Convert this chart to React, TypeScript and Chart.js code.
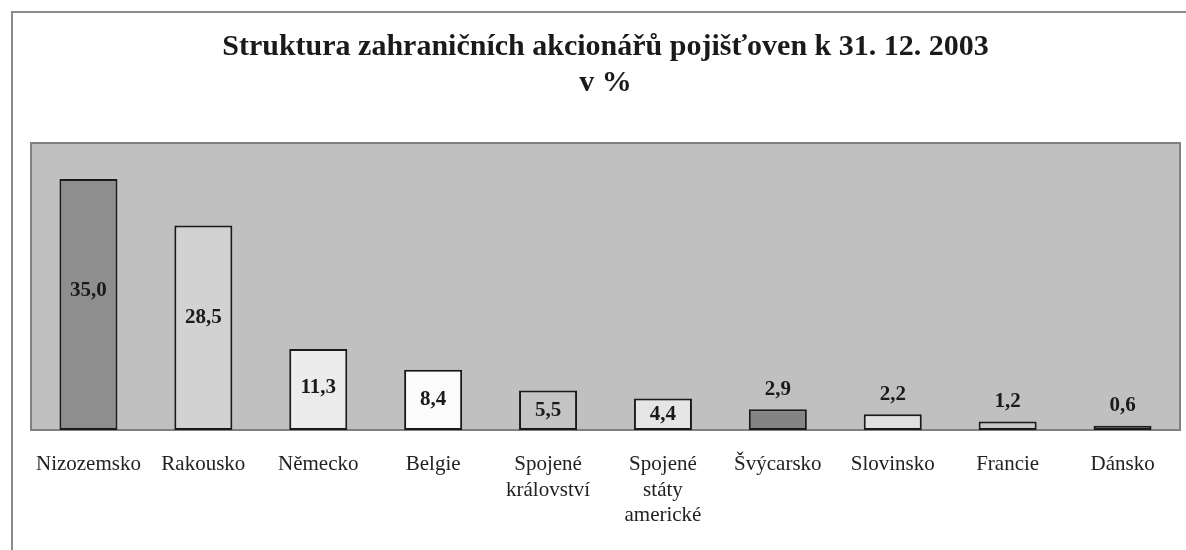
import React, { useEffect, useRef } from "react";
import { Chart, registerables } from "chart.js";

Chart.register(...registerables);

const categories: (string | string[])[] = [
  "Nizozemsko",
  "Rakousko",
  "Německo",
  "Belgie",
  ["Spojené", "království"],
  ["Spojené", "státy", "americké"],
  "Švýcarsko",
  "Slovinsko",
  "Francie",
  "Dánsko",
];
const values: number[] = [35.0, 28.5, 11.3, 8.4, 5.5, 4.4, 2.9, 2.2, 1.2, 0.6];
const barColors: string[] = [
  "#8e8e8e",
  "#d2d2d2",
  "#ececec",
  "#fbfbfb",
  "#c4c4c4",
  "#e6e6e6",
  "#848484",
  "#e0e0e0",
  "#c8c8c8",
  "#9c9c9c",
];
const titleLines: string[] = ["Struktura zahraničních akcionářů pojišťoven k 31. 12. 2003", "v %"];
const yMax = 40;

const SERIF = "'Liberation Serif', 'Times New Roman', serif";

const decorPlugin = {
  id: "decor",
  beforeDraw(chart: any) {
    const ctx = chart.ctx;
    ctx.save();
    ctx.fillStyle = "#ffffff";
    ctx.fillRect(0, 0, chart.width, chart.height);
    ctx.strokeStyle = "#8c8c8c";
    ctx.lineWidth = 2;
    ctx.beginPath();
    ctx.moveTo(12, chart.height);
    ctx.lineTo(12, 12);
    ctx.lineTo(chart.width, 12);
    ctx.stroke();
    ctx.restore();
  },
  beforeDatasetsDraw(chart: any) {
    const { ctx, chartArea } = chart;
    ctx.save();
    ctx.fillStyle = "#c0c0c0";
    ctx.fillRect(chartArea.left, chartArea.top, chartArea.right - chartArea.left, chartArea.bottom - chartArea.top);
    ctx.strokeStyle = "#808080";
    ctx.lineWidth = 2;
    ctx.strokeRect(chartArea.left, chartArea.top, chartArea.right - chartArea.left, chartArea.bottom - chartArea.top);
    ctx.restore();
  },
  afterDatasetsDraw(chart: any) {
    const ctx = chart.ctx;
    const meta = chart.getDatasetMeta(0);
    ctx.save();
    ctx.font = "bold 21px " + SERIF;
    ctx.fillStyle = "#1a1a1a";
    ctx.textAlign = "center";
    ctx.textBaseline = "middle";
    meta.data.forEach((bar: any, i: number) => {
      const v = values[i];
      const txt = v.toFixed(1).replace(".", ",");
      const h = bar.base - bar.y;
      let y: number;
      if (v >= 4) {
        y = (bar.base + bar.y) / 2 - Math.max(0, h - 60) * 0.07;
      } else {
        y = bar.y - 20;
      }
      ctx.fillText(txt, bar.x, y);
    });
    ctx.restore();
  },
};

export default function App() {
  const ref = useRef<HTMLCanvasElement | null>(null);
  useEffect(() => {
    if (!ref.current) return;
    const chart = new Chart(ref.current, {
      type: "bar",
      data: {
        labels: categories,
        datasets: [
          {
            data: values,
            backgroundColor: barColors,
            borderColor: "#1a1a1a",
            borderWidth: 2,
            borderSkipped: false,
            barPercentage: 0.505,
            categoryPercentage: 1,
          },
        ],
      },
      options: {
        responsive: false,
        animation: false,
        layout: { padding: { left: 31, right: 6, top: 0, bottom: 0 } },
        plugins: {
          legend: { display: false },
          tooltip: { enabled: false },
          title: {
            display: true,
            text: titleLines,
            color: "#1a1a1a",
            font: { family: SERIF, size: 30, weight: "bold", lineHeight: 1.2 },
            padding: { top: 29, bottom: 42 },
          },
        },
        scales: {
          x: {
            grid: { display: false, drawTicks: false },
            border: { display: false },
            ticks: {
              color: "#222222",
              font: { family: SERIF, size: 21, lineHeight: 1.21 },
              padding: 22,
              maxRotation: 0,
              autoSkip: false,
            },
            afterFit(scale: any) {
              scale.height = 120;
            },
          },
          y: { display: false, min: 0, max: yMax },
        },
      },
      plugins: [decorPlugin],
    });
    return () => chart.destroy();
  }, []);
  return (
    <div style={{ position: "absolute", left: 0, top: 0, width: 1186, height: 550 }}>
      <canvas ref={ref} width={1186} height={550} style={{ display: "block" }} />
    </div>
  );
}
